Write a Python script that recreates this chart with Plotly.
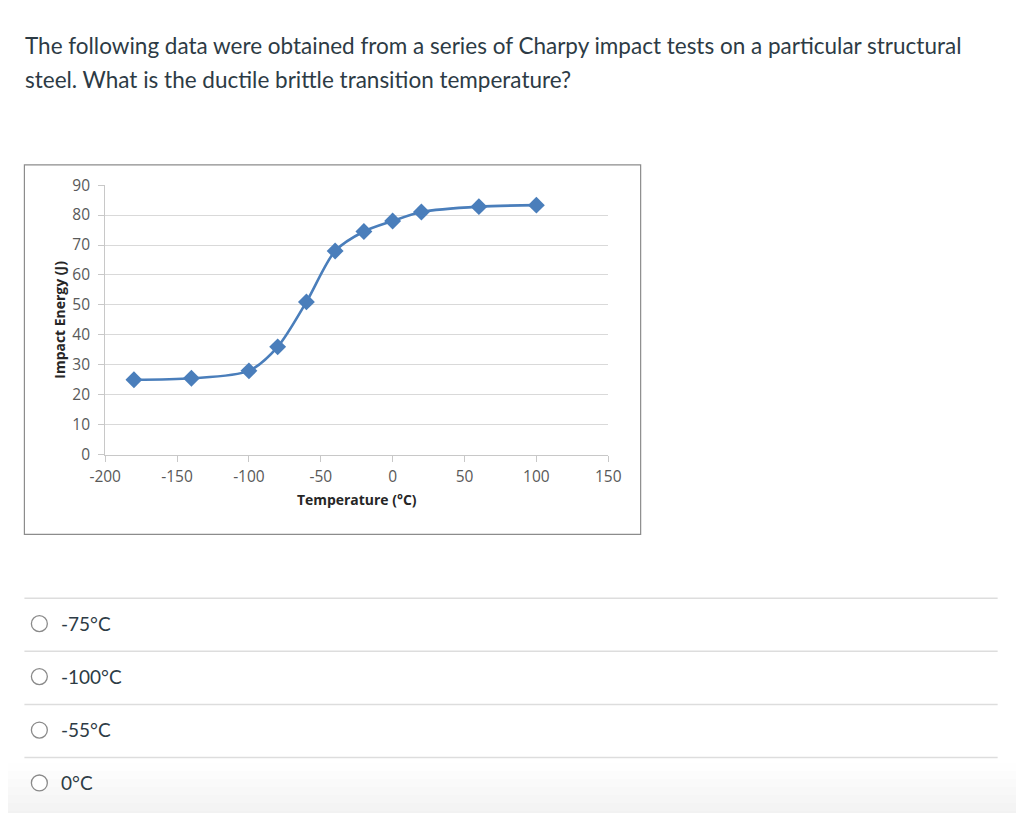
import plotly.graph_objects as go

# Charpy impact test data
temperature = [-180, -140, -100, -80, -60, -40, -20, 0, 20, 60, 100]
impact_energy = [25, 25.5, 28, 36, 51, 68, 74.5, 78, 81, 82.8, 83.3]

x_ticks = [-200, -150, -100, -50, 0, 50, 100, 150]
x_tick_labels = ["-200", "-150", "-100", "-50", "0", "50", "100", "150"]

question_lines = [
    "The following data were obtained from a series of Charpy impact tests on a particular structural",
    "steel. What is the ductile brittle transition temperature?",
]
options = ["-75°C", "-100°C", "-55°C", "0°C"]

OFF = 8
W, H = 1024 - 2 * OFF, 821 - 2 * OFF
# the photographed page comes out slightly shrunk and shifted, compensate for it
AX, AY, S = 14.8, 10.2, 0.974


def px(x):
    return ((x - AX) / S - OFF) / W


def py(y):
    return 1 - ((y - AY) / S - OFF) / H


def fs(size):
    return size / S


fig = go.Figure()

fig.add_trace(go.Scatter(
    x=temperature,
    y=impact_energy,
    mode="lines+markers",
    line=dict(color="#4a7ebb", width=2.6, shape="spline", smoothing=0.8),
    marker=dict(symbol="diamond", size=13, color="#4a7ebb"),
    showlegend=False,
))

tick_font = dict(family="Open Sans, Liberation Sans, sans-serif", size=15.5, color="#595959")
title_font = dict(family="Open Sans, Liberation Sans, sans-serif", size=fs(13.6), color="#262626")

fig.update_xaxes(
    domain=[px(104), px(608.5)],
    range=[-200, 150],
    tickvals=x_ticks,
    ticktext=x_tick_labels,
    showgrid=False,
    zeroline=False,
    showline=True,
    linecolor="#c8c8c8",
    ticks="outside",
    ticklen=6,
    tickcolor="#c8c8c8",
    tickfont=tick_font,
    ticklabelstandoff=2,
    title=dict(text="<b>Temperature (°C)</b>", font=title_font, standoff=8),
)
fig.update_yaxes(
    domain=[py(453.3), py(183.3)],
    range=[0, 90],
    dtick=10,
    showgrid=True,
    gridcolor="#d9d9d9",
    gridwidth=1,
    zeroline=False,
    showline=True,
    linecolor="#c8c8c8",
    ticks="outside",
    ticklen=6,
    tickcolor="#c8c8c8",
    tickfont=tick_font,
    ticklabelstandoff=5,
    title=dict(text="<b>Impact Energy (J)</b>", font=title_font, standoff=3),
)

shapes = []
# subtle grey fade at the bottom of the page
fade = ["#fefefe", "#fcfcfc", "#fafafa", "#f8f8f8", "#f6f6f6", "#f4f4f4", "#f2f2f2", "#f0f0f0"]
for i, c in enumerate(fade):
    shapes.append(dict(type="rect", xref="paper", yref="paper",
                       x0=-0.05, x1=1.05, y0=-0.05, y1=py(762 + i * 8),
                       fillcolor=c, line=dict(width=0), layer="below"))

# chart frame
shapes.append(dict(type="rect", xref="paper", yref="paper",
                   x0=px(23), x1=px(641), y0=py(533), y1=py(163),
                   line=dict(color="#8c8c8c", width=1.2), layer="below"))

annotations = []
for i, line in enumerate(question_lines):
    annotations.append(dict(
        text=line, xref="paper", yref="paper", x=px(22), y=py(44 + i * 34),
        xanchor="left", yanchor="middle", showarrow=False,
        font=dict(family="Lato, sans-serif", size=22.5, color="#2d3b45"),
    ))

sep_y = [597, 650, 703.5, 756.5]
for i, opt in enumerate(options):
    y_line = sep_y[i]
    y_mid = y_line + 25.5
    shapes.append(dict(type="line", xref="paper", yref="paper",
                       x0=px(23), x1=px(999), y0=py(y_line), y1=py(y_line),
                       line=dict(color="#dddddd", width=1.5)))
    shapes.append(dict(type="circle", xref="paper", yref="paper",
                       x0=px(30), x1=px(46), y0=py(y_mid + 8), y1=py(y_mid - 8),
                       line=dict(color="#8a8a8a", width=1.3), fillcolor="white"))
    annotations.append(dict(
        text=opt, xref="paper", yref="paper", x=px(58), y=py(y_mid - 0.5),
        xanchor="left", yanchor="middle", showarrow=False,
        font=dict(family="Lato, sans-serif", size=19, color="#2d3b45"),
    ))

fig.update_layout(
    width=W,
    height=H,
    margin=dict(l=0, r=0, t=0, b=0),
    paper_bgcolor="white",
    plot_bgcolor="white",
    shapes=shapes,
    annotations=annotations,
)

fig.write_html("out.html")
